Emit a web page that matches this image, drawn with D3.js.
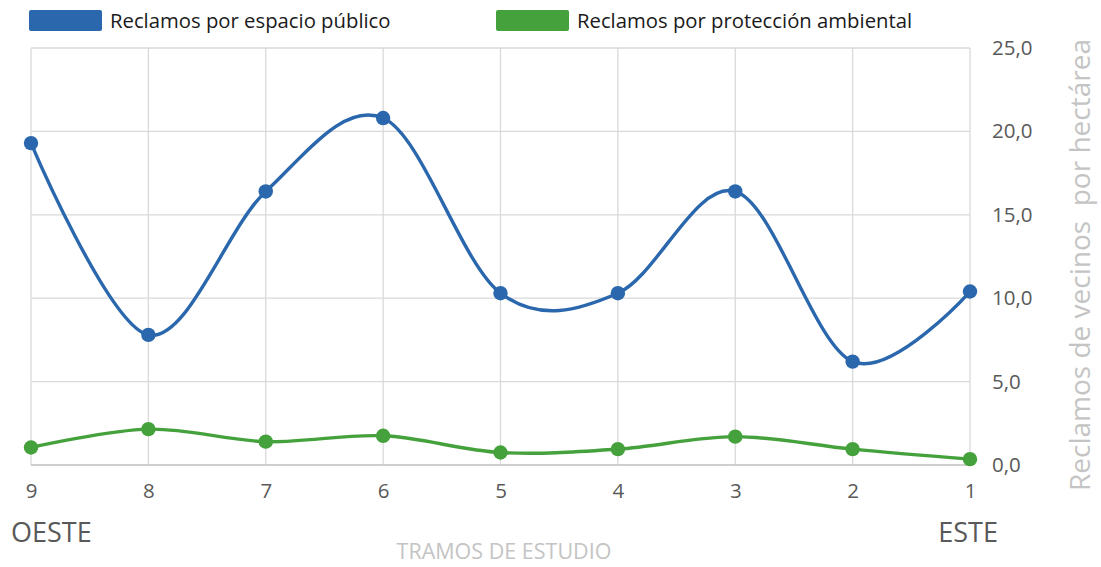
<!DOCTYPE html>
<html>
<head>
<meta charset="utf-8">
<script src="https://cdn.jsdelivr.net/npm/d3@7"></script>
<style>
  body { margin: 0; background: #fff; }
  svg { display: block; font-family: "Open Sans", "Noto Sans", sans-serif; }
</style>
</head>
<body>
<svg id="chart" width="1101" height="567"></svg>
<script>
// tramos de estudio, de oeste a este
var tramos = ["9", "8", "7", "6", "5", "4", "3", "2", "1"];
var espacioPublico = [19.3, 7.8, 16.4, 20.8, 10.3, 10.3, 16.4, 6.2, 10.4];
var proteccionAmbiental = [1.05, 2.15, 1.4, 1.75, 0.75, 0.95, 1.7, 0.95, 0.35];
var yTicks = [0, 5, 10, 15, 20, 25];

var series = [
  { name: "Reclamos por espacio público", values: espacioPublico, color: "#2a67ad" },
  { name: "Reclamos por protección ambiental", values: proteccionAmbiental, color: "#45a13c" }
];

var svg = d3.select("#chart");
var plotLeft = 31, plotRight = 970, plotTop = 48, plotBottom = 465;

var x = d3.scalePoint().domain(tramos).range([plotLeft, plotRight]);
var y = d3.scaleLinear().domain([0, 25]).range([plotBottom, plotTop]);
var fmt = function (d) { return d3.format(".1f")(d).replace(".", ","); };

// grid
var grid = svg.append("g").attr("stroke", "#d9d9d9").attr("stroke-width", 1.3);
grid.selectAll(".v").data(tramos).enter().append("line")
  .attr("x1", function (d) { return x(d); }).attr("x2", function (d) { return x(d); })
  .attr("y1", plotTop).attr("y2", plotBottom);
grid.selectAll(".h").data(yTicks.slice(1)).enter().append("line")
  .attr("x1", plotLeft).attr("x2", plotRight)
  .attr("y1", function (d) { return y(d); }).attr("y2", function (d) { return y(d); });
svg.append("line").attr("x1", plotLeft).attr("x2", plotRight)
  .attr("y1", plotBottom).attr("y2", plotBottom)
  .attr("stroke", "#bfbfbf").attr("stroke-width", 1.5);

// right axis
var yAxis = d3.axisRight(y).tickValues(yTicks).tickFormat(fmt).tickSize(0).tickPadding(22);
var ya = svg.append("g").attr("transform", "translate(" + plotRight + ",0)").call(yAxis);
ya.select(".domain").remove();
ya.selectAll("text").attr("fill", "#595959").style("font-size", "20.5px")
  .style("font-family", "'Open Sans', sans-serif");

// bottom axis
var xAxis = d3.axisBottom(x).tickSize(0).tickPadding(18);
var xa = svg.append("g").attr("transform", "translate(0," + plotBottom + ")").call(xAxis);
xa.select(".domain").remove();
xa.selectAll("text").attr("fill", "#595959").style("font-size", "20.5px")
  .style("font-family", "'Open Sans', sans-serif");

// series
var line = d3.line()
  .x(function (d, i) { return x(tramos[i]); })
  .y(function (d) { return y(d); })
  .curve(d3.curveCardinal.tension(0));

series.forEach(function (s) {
  svg.append("path").datum(s.values)
    .attr("d", line).attr("fill", "none")
    .attr("stroke", s.color).attr("stroke-width", 3.4);
  svg.selectAll(null).data(s.values).enter().append("circle")
    .attr("cx", function (d, i) { return x(tramos[i]); })
    .attr("cy", function (d) { return y(d); })
    .attr("r", 7.2).attr("fill", s.color);
});

// legend
var legendX = [29, 496];
series.forEach(function (s, i) {
  var g = svg.append("g").attr("transform", "translate(" + legendX[i] + ",10)");
  g.append("rect").attr("width", 73).attr("height", 21).attr("rx", 2).attr("fill", s.color);
  g.append("text").attr("x", 81).attr("y", 17.5).attr("fill", "#1a1a1a")
    .style("font-size", "20.3px").text(s.name);
});

// titles
svg.append("text").attr("transform", "translate(1090,265) rotate(-90)")
  .attr("text-anchor", "middle").attr("fill", "#c4c4c4").style("font-size", "28px")
  .style("white-space", "pre")
  .text("Reclamos de vecinos  por hectárea");
svg.append("text").attr("x", 504).attr("y", 559).attr("text-anchor", "middle")
  .attr("fill", "#c4c4c4").style("font-size", "21.5px").text("TRAMOS DE ESTUDIO");
svg.append("text").attr("x", 11).attr("y", 542).attr("fill", "#595959")
  .style("font-size", "27px").text("OESTE");
svg.append("text").attr("x", 998).attr("y", 542).attr("text-anchor", "end").attr("fill", "#595959")
  .style("font-size", "27px").text("ESTE");
</script>
</body>
</html>
